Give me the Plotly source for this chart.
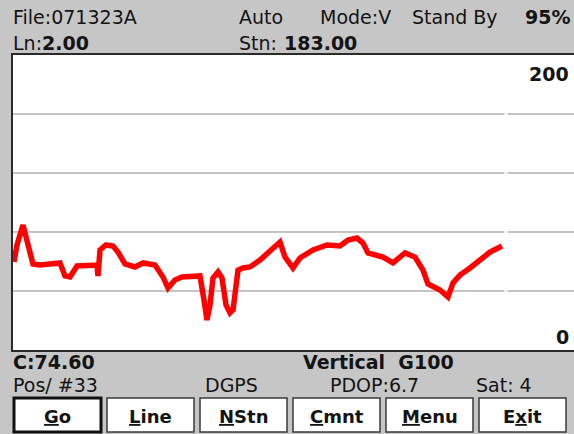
import plotly.graph_objects as go

W, H = 574, 434

# ---- data ----
positions = [1, 4, 10, 15, 20, 27, 47, 52, 57, 64, 84, 85, 87, 93, 100, 105, 112, 122, 130, 142,
             150, 155, 162, 169, 187, 191, 194, 197, 200, 205, 209, 213, 217, 220, 225, 230, 237,
             247, 259, 267, 272, 280, 287, 300, 314, 327, 335, 344, 350, 355, 370, 380, 392, 402,
             410, 415, 427, 435, 440, 447, 457, 467, 477, 489]
readings = [59.7, 71.2, 84.7, 71.2, 58.3, 57.6, 59.0, 50.2, 49.5, 57.0, 57.6, 50.2, 67.8, 71.2,
            70.5, 66.4, 58.3, 56.3, 59.0, 57.6, 49.5, 42.0, 47.5, 49.5, 50.2, 33.9, 20.3, 30.5,
            48.8, 52.9, 48.8, 30.5, 25.1, 27.1, 54.2, 55.6, 56.3, 61.0, 67.8, 73.2, 63.0, 55.6,
            62.4, 67.8, 71.2, 70.5, 74.6, 75.9, 72.5, 65.8, 63.0, 59.0, 65.8, 63.0, 54.2, 44.7,
            40.7, 35.9, 45.4, 50.8, 55.6, 61.0, 66.4, 70.5]
y_min, y_max, y_step = 0, 200, 40
x_span = 561

header_row1 = ["File:071323A", "Auto", "Mode:V", "Stand By", "95%"]
header_row2 = ["Ln:<b>2.00</b>", "Stn:", "<b>183.00</b>"]
status_row1 = ["<b>C:74.60</b>", "<b>Vertical  G100</b>"]
status_row2 = ["Pos/ #33", "DGPS", "PDOP:6.7", "Sat: 4"]
buttons = ["<u>G</u>o", "<u>L</u>ine", "<u>N</u>Stn", "<u>C</u>mnt", "<u>M</u>enu", "E<u>x</u>it"]

FONT = "DejaVu Sans"
BG = "#c6c6c6"
INK = "#141414"


def px(x):
    return x / W


def py(y):
    return 1 - y / H


fig = go.Figure()
fig.add_trace(go.Scatter(x=positions, y=readings, mode="lines",
                         line=dict(color="#ff0000", width=5.5), hoverinfo="skip"))

shapes = []
# cursor gap in the grid
shapes.append(dict(type="line", xref="x", yref="y", x0=positions[-1] + 4, x1=positions[-1] + 4,
                   y0=y_min + 1, y1=y_max - 1, line=dict(color="white", width=3), layer="above"))

ann = []


def txt(t, x, y, size=19, xanchor="left", yanchor="middle", bold=False):
    ann.append(dict(text=f"<b>{t}</b>" if bold else t, x=px(x), y=py(y), xref="paper",
                    yref="paper", xanchor=xanchor, yanchor=yanchor, showarrow=False,
                    font=dict(family=FONT, size=size, color=INK)))


# header
txt(header_row1[0], 11, 17)
txt(header_row1[1], 237, 17)
txt(header_row1[2], 318, 17)
txt(header_row1[3], 410, 17)
txt(header_row1[4], 572, 17, xanchor="right", bold=True)
txt(header_row2[0], 11, 43)
txt(header_row2[1], 237, 43)
txt(header_row2[2], 282, 43)

# axis end labels
ann.append(dict(text="<b>200</b>", x=1, y=y_max, xref="paper", yref="y", xanchor="right",
                yanchor="top", xshift=-3, yshift=-6, showarrow=False,
                font=dict(family=FONT, size=19, color=INK)))
ann.append(dict(text="<b>0</b>", x=1, y=y_min, xref="paper", yref="y", xanchor="right",
                yanchor="bottom", xshift=-3, yshift=0, showarrow=False,
                font=dict(family=FONT, size=19, color=INK)))

# status rows
txt(status_row1[0], 11, 362)
txt(status_row1[1], 301, 362)
txt(status_row2[0], 11, 385)
txt(status_row2[1], 203, 385)
txt(status_row2[2], 328, 385)
txt(status_row2[3], 474, 385)

# buttons
btn_left = [14, 107, 200, 293, 386, 479]
btn_w = 87
for i, (b, x0) in enumerate(zip(buttons, btn_left)):
    focused = i == 0
    shapes.append(dict(type="rect", xref="paper", yref="paper", x0=px(x0), x1=px(x0 + btn_w),
                       y0=py(432), y1=py(398), fillcolor="white", layer="below",
                       line=dict(color="#111" if focused else "#3a3a3a", width=3 if focused else 1.5)))
    txt(b, x0 + btn_w / 2, 416, size=18, xanchor="center", bold=True)

fig.update_layout(
    width=W, height=H, margin=dict(l=0, r=0, t=0, b=0),
    paper_bgcolor=BG, plot_bgcolor="white", showlegend=False,
    annotations=ann, shapes=shapes,
    xaxis=dict(domain=[px(13), 1], range=[0, x_span], showgrid=False, zeroline=False,
               showticklabels=False, ticks="", showline=True, mirror=True,
               linecolor="#2a2a2a", linewidth=2, fixedrange=True),
    yaxis=dict(domain=[py(350), py(55)], range=[y_min, y_max], dtick=y_step, showgrid=True,
               gridcolor="#c4c4c4", gridwidth=2, zeroline=False, showticklabels=False,
               ticks="", showline=True, linecolor="#2a2a2a", linewidth=2, fixedrange=True),
)

fig.write_html("out.html", config=dict(displayModeBar=False),
               post_script="document.body.style.margin='0';document.body.style.overflow='hidden';")
